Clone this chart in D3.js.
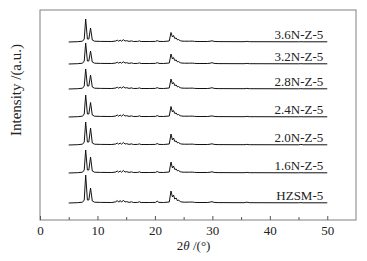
<!DOCTYPE html>
<html><head><meta charset="utf-8">
<script src="https://cdn.jsdelivr.net/npm/d3@7"></script>
<style>body{margin:0;background:#fff;} svg{display:block;}</style>
</head><body>
<svg id="c" width="367" height="261"></svg>
<script>
// ---- data ----
const seriesNames = ["HZSM-5","1.6N-Z-5","2.0N-Z-5","2.4N-Z-5","2.8N-Z-5","3.2N-Z-5","3.6N-Z-5"];
const offsets = [17, 47, 75, 103, 131, 156, 178];
const xTicks = [0,10,20,30,40,50];
const xMinorTicks = [5,15,25,35,45];
const angles = [5,6.5,7.4,7.7,7.95,8.25,8.5,8.8,9.1,9.5,10.5,12.5,13.2,13.45,13.7,13.95,14.2,14.5,14.8,15.1,15.5,15.9,16.3,17.0,17.3,17.6,19.0,20.1,20.4,20.7,21.5,22.5,22.8,23.05,23.25,23.45,23.7,23.95,24.1,24.4,24.7,25.2,26.0,26.5,26.9,27.5,29.2,29.6,29.95,30.3,31.0,35.5,36.0,36.5,45.0,45.4,45.8,50.0];
const iHZSM = [0,0.3,0.8,3,28,3,3,15,2,0.8, 0.6,0.5,1.2,2.5,0.8,2.5,0.8,2.8,1.0,1.4, 0.6,1.2,0.5,0.6,1.2,0.5,0.5,0.6,1.8,0.6, 0.5,1.0,12,6,8,4,5,2,3,1.5, 1.0,0.8,0.9,1.0,0.6,0.5,0.5,0.9,1.3,0.6, 0.4,0.3,0.8,0.3,0.2,0.4,0.2,0.2];
const i16 = [0,0.3,0.8,3,23,3,3,16,2,0.8, 0.6,0.5,1.0,2.0,0.8,2.0,0.8,2.5,1.0,1.3, 0.6,1.1,0.5,0.6,1.1,0.5,0.5,0.6,1.5,0.6, 0.5,1.0,11,5,7,3.5,4,2,2.5,1.3, 0.9,0.8,0.8,0.9,0.6,0.5,0.5,0.8,1.2,0.6, 0.4,0.3,0.6,0.3,0.2,0.3,0.2,0.2];
const i20 = [0,0.3,0.8,3,23,3,3,17,2,0.8, 0.6,0.5,1.0,2.0,0.8,2.0,0.8,2.5,1.0,1.3, 0.6,1.1,0.5,0.6,1.1,0.5,0.5,0.6,1.5,0.6, 0.5,1.0,11,5,7,3.5,4,2,2.5,1.3, 0.9,0.8,0.8,0.9,0.6,0.5,0.5,0.8,1.2,0.6, 0.4,0.3,0.6,0.3,0.2,0.6,0.2,0.2];
const i24 = [0,0.3,0.8,3,22,3,3,14.5,2,0.8, 0.6,0.5,1.0,2.0,0.8,2.0,0.8,2.4,1.0,1.3, 0.6,1.1,0.5,0.6,1.1,0.5,0.5,0.6,1.4,0.6, 0.5,1.0,10.5,5,6.5,3.5,4,2,2.5,1.3, 0.9,0.8,0.8,0.9,0.6,0.5,0.5,0.8,1.1,0.6, 0.4,0.3,0.6,0.3,0.2,0.3,0.2,0.2];
const i28 = [0,0.3,0.8,3,20,3,3,14,2,0.8, 0.6,0.5,1.0,1.8,0.8,1.8,0.8,2.3,1.0,1.3, 0.6,1.1,0.5,0.6,1.1,0.5,0.5,0.6,1.4,0.6, 0.5,1.0,10,5,6.5,3.5,4,2,2.5,1.3, 0.9,0.8,0.8,0.9,0.6,0.5,0.5,0.8,1.3,0.6, 0.4,0.3,0.6,0.3,0.2,0.3,0.2,0.2];
const i32 = [0,0.3,0.8,3,21,3,3,13,2,0.8, 0.6,0.5,1.0,1.8,0.8,1.8,0.8,2.2,1.0,1.3, 0.6,1.1,0.5,0.6,1.1,0.5,0.5,0.6,1.4,0.6, 0.5,1.0,10,5,6.5,3.5,4,2,2.5,1.3, 0.9,0.8,0.8,0.9,0.6,0.5,0.5,0.8,1.3,0.6, 0.4,0.3,0.6,0.3,0.2,0.3,0.2,0.2];
const i36 = [0,0.3,0.8,3,23,3,3,14,2,0.8, 0.6,0.5,1.0,1.8,0.8,1.8,0.8,2.3,1.0,1.3, 0.6,1.1,0.5,0.6,1.1,0.5,0.5,0.6,1.4,0.6, 0.5,1.0,9.5,5,6.5,3.5,4,2,2.5,1.3, 0.9,0.8,0.8,0.9,0.6,0.5,0.5,0.8,1.2,0.6, 0.4,0.3,0.6,0.3,0.2,0.3,0.2,0.2];
const intensities = [iHZSM, i16, i20, i24, i28, i32, i36];

// ---- chart ----
const svg = d3.select("#c");
const m = {left:40, right:11, top:10, bottom:41};
const W = 367, H = 261;
const x = d3.scaleLinear().domain([0,55]).range([m.left, W - m.right]);
const y = d3.scaleLinear().domain([0,210]).range([H - m.bottom, m.top]);
const serif = "'Liberation Serif','Times New Roman',serif";

// frame
svg.append("rect").attr("x", x(0)).attr("y", y(210))
  .attr("width", x(55)-x(0)).attr("height", y(0)-y(210))
  .attr("fill","none").attr("stroke","#808080").attr("stroke-width",1);

// bottom axis (ticks inside)
const gx = svg.append("g").attr("transform", `translate(0,${y(0)})`);
gx.call(d3.axisBottom(x).tickValues(xTicks).tickSize(-4).tickFormat(d3.format("d")));
gx.select(".domain").remove();
gx.selectAll(".tick line").attr("stroke","#555");
gx.selectAll(".tick text").attr("font-family", serif).attr("font-size", 13).attr("fill","#222")
  .attr("y", 6).attr("dy","0.71em");
const gm = svg.append("g").attr("transform", `translate(0,${y(0)})`);
gm.call(d3.axisBottom(x).tickValues(xMinorTicks).tickSize(-3).tickFormat(""));
gm.select(".domain").remove();
gm.selectAll(".tick line").attr("stroke","#555");

// traces
const line = d3.line().x(d => x(d[0])).y(d => y(d[1]));
seriesNames.forEach((name, k) => {
  const pts = angles.map((a, i) => [a, offsets[k] + intensities[k][i]]);
  svg.append("path").datum(pts).attr("d", line)
    .attr("fill","none").attr("stroke","#111").attr("stroke-width",1).attr("stroke-linejoin","round");
  svg.append("text").attr("x", x(49.3)).attr("y", y(offsets[k]) - 3)
    .attr("text-anchor","end").attr("font-family", serif).attr("font-size", 13).attr("fill","#222")
    .text(name);
});

// axis titles
const xt = svg.append("text").attr("x", (x(0)+x(50))/2 + 10).attr("y", 250)
  .attr("text-anchor","middle").attr("font-family", serif).attr("font-size", 13).attr("fill","#222");
xt.append("tspan").text("2");
xt.append("tspan").attr("font-style","italic").text("θ");
xt.append("tspan").text(" /(°)");

svg.append("text").attr("transform", `translate(21,90) rotate(-90)`)
  .attr("text-anchor","middle").attr("font-family", serif).attr("font-size", 15).attr("fill","#222")
  .text("Intensity /(a.u.)");
</script>
</body></html>
